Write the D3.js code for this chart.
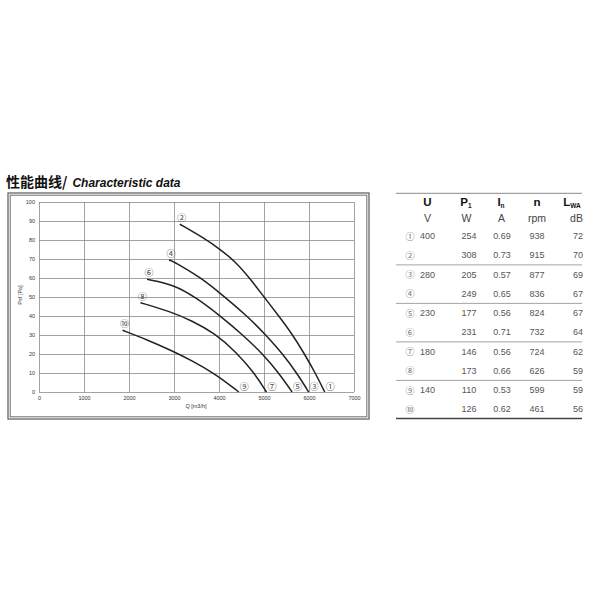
<!DOCTYPE html>
<html>
<head>
<meta charset="utf-8">
<script src="https://cdn.jsdelivr.net/npm/d3@7"></script>
<style>
  html, body { margin: 0; padding: 0; background: #fff; overflow: hidden; }
  svg { display: block; }
  .tick text { font-family: "Liberation Sans", Arial, sans-serif; fill: #333; }
</style>
</head>
<body>
<div id="viz"></div>
<script>
// curve numbers: each speed curve carries an even label at its start, odd label at its end
const curveStartLabels = ['②', '④', '⑥', '⑧', '⑩'];
const curveEndLabels   = ['①', '③', '⑤', '⑦', '⑨'];

// [Q m3/h, Psf Pa]
const curve400 = [[3130, 88.3], [3700, 80.5], [4000, 75.5], [4350, 69], [4680, 60], [5000, 50], [5330, 40], [5640, 30], [5900, 20], [6140, 10], [6350, 0]];
const curve280 = [[2890, 69.5], [3000, 68.6], [3607, 60], [4000, 52.5], [4630, 40], [5040, 30], [5418, 20], [5728, 10], [5993, 0]];
const curve230 = [[2401, 59.3], [3000, 56.5], [3500, 49.5], [4030, 40], [4530, 30], [4974, 20], [5328, 10], [5625, 0]];
const curve180 = [[2254, 47], [2900, 42.5], [3400, 37.5], [3900, 31], [4384, 21], [4789, 10], [5055, 0]];
const curve140 = [[1856, 32.5], [2400, 27.5], [2950, 21.8], [3400, 16.5], [3900, 9.8], [4441, 0]];
const curves = [curve400, curve280, curve230, curve180, curve140];

const xTicks = [0, 1000, 2000, 3000, 4000, 5000, 6000, 7000];
const yTicks = [0, 10, 20, 30, 40, 50, 60, 70, 80, 90, 100];

// table
const rowLabels = ['①', '②', '③', '④', '⑤', '⑥', '⑦', '⑧', '⑨', '⑩'];
const voltage   = [400, null, 280, null, 230, null, 180, null, 140, null];
const power     = [254, 308, 205, 249, 177, 231, 146, 173, 110, 126];
const current   = ['0.69', '0.73', '0.57', '0.65', '0.56', '0.71', '0.56', '0.66', '0.53', '0.62'];
const speed     = [938, 915, 877, 836, 824, 732, 724, 626, 599, 461];
const soundLwa  = [72, 70, 69, 67, 67, 64, 62, 59, 59, 56];
const unitLabels = ['V', 'W', 'A', 'rpm', 'dB'];

const FONT = '"Liberation Sans", Arial, sans-serif';
const CJK = '"Noto Sans CJK SC", "Noto Sans CJK JP", sans-serif';

const svg = d3.select('#viz').append('svg').attr('width', 600).attr('height', 600);

// title
const title = svg.append('text').attr('x', 6).attr('y', 187);
title.append('tspan').attr('font-family', CJK).attr('font-weight', 'bold').attr('font-size', 14).attr('fill', '#111').text('性能曲线/');
title.append('tspan').attr('font-family', FONT).attr('font-weight', 'bold').attr('font-style', 'italic')
  .attr('font-size', 12).attr('fill', '#111').attr('dx', 5).text('Characteristic data');

// chart frame
svg.append('rect').attr('x', 8).attr('y', 193).attr('width', 361).attr('height', 226)
  .attr('fill', 'none').attr('stroke', '#666').attr('stroke-width', 1.3);
svg.append('rect').attr('x', 10.2).attr('y', 195.2).attr('width', 356.6).attr('height', 221.6)
  .attr('fill', 'none').attr('stroke', '#7a7a7a').attr('stroke-width', 1.1);

const x = d3.scaleLinear().domain([0, 7000]).range([39, 354]);
const y = d3.scaleLinear().domain([0, 100]).range([392, 202]);

const gx = svg.append('g').attr('transform', `translate(0,${y(0)})`)
  .call(d3.axisBottom(x).tickValues(xTicks).tickSize(-(y(0) - y(100))).tickPadding(4).tickFormat(d3.format('d')));
const gy = svg.append('g').attr('transform', `translate(${x(0)},0)`)
  .call(d3.axisLeft(y).tickValues(yTicks).tickSize(-(x(7000) - x(0))).tickPadding(4).tickFormat(d3.format('d')));
[gx, gy].forEach(g => {
  g.select('.domain').remove();
  g.selectAll('.tick line').attr('stroke', '#8c8c8c').attr('stroke-width', 0.8);
  g.selectAll('.tick text').attr('font-size', 5.5);
});

svg.append('text').attr('x', 196).attr('y', 408).attr('text-anchor', 'middle')
  .attr('font-family', FONT).attr('font-size', 5.5).attr('fill', '#333').text('Q [m3/h]');
svg.append('text').attr('transform', 'translate(22,295) rotate(-90)').attr('text-anchor', 'middle')
  .attr('font-family', FONT).attr('font-size', 5.5).attr('fill', '#333').text('Psf [Pa]');

const line = d3.line().x(d => x(d[0])).y(d => y(d[1])).curve(d3.curveBasis);
svg.append('g').selectAll('path').data(curves).join('path')
  .attr('d', line).attr('fill', 'none').attr('stroke', '#222').attr('stroke-width', 1.5);

svg.append('g').selectAll('text').data(curves).join('text')
  .attr('x', d => x(d[0][0]) + 2).attr('y', d => y(d[0][1]) - 6.5)
  .attr('text-anchor', 'middle').attr('dominant-baseline', 'central')
  .attr('font-family', CJK).attr('font-size', 9).attr('fill', '#444')
  .text((d, i) => curveStartLabels[i]);
svg.append('g').selectAll('text').data(curves).join('text')
  .attr('x', d => x(d[d.length - 1][0]) + 5.5).attr('y', y(0) - 5.5)
  .attr('text-anchor', 'middle').attr('dominant-baseline', 'central')
  .attr('font-family', CJK).attr('font-size', 9).attr('fill', '#444')
  .text((d, i) => curveEndLabels[i]);

// table
const colX = [410, 427.5, 469, 502, 537, 578];
const rowY = d3.scaleLinear().domain([0, 9]).range([236, 409.3]);
const tbl = svg.append('g');

tbl.append('line').attr('x1', 396).attr('x2', 582).attr('y1', 193.3).attr('y2', 193.3)
  .attr('stroke', '#8a8a8a').attr('stroke-width', 1);
[1, 3, 5, 7].forEach(i => {
  const yy = (rowY(i) + rowY(i + 1)) / 2;
  tbl.append('line').attr('x1', 396).attr('x2', 582).attr('y1', yy).attr('y2', yy)
    .attr('stroke', '#9a9a9a').attr('stroke-width', 0.9);
});
tbl.append('line').attr('x1', 396).attr('x2', 582).attr('y1', 418.5).attr('y2', 418.5)
  .attr('stroke', '#444').attr('stroke-width', 1.3);

// header row with subscripts
const heads = [['U', ''], ['P', '1'], ['I', 'n'], ['n', ''], ['L', 'WA']];
const headX = [427.5, 466, 501, 537, 572];
heads.forEach((h, i) => {
  const t = tbl.append('text').attr('x', headX[i]).attr('y', 205.5).attr('text-anchor', 'middle')
    .attr('font-family', FONT).attr('font-weight', 'bold').attr('font-size', 11.5).attr('fill', '#111');
  t.append('tspan').text(h[0]);
  if (h[1]) t.append('tspan').attr('font-size', 6.5).attr('dy', 2.5).text(h[1]);
});
tbl.selectAll('text.unit').data(unitLabels).join('text').attr('class', 'unit')
  .attr('x', (d, i) => [427.5, 466.5, 501.5, 537, 576.5][i]).attr('y', 222)
  .attr('text-anchor', 'middle').attr('font-family', FONT).attr('font-size', 10.5).attr('fill', '#444')
  .text(d => d);

const rows = rowLabels.map((lab, i) => [lab, voltage[i], power[i], current[i], speed[i], soundLwa[i]]);
rows.forEach((r, i) => {
  r.forEach((v, j) => {
    if (v === null) return;
    tbl.append('text').attr('x', colX[j]).attr('y', rowY(i)).attr('text-anchor', 'middle')
      .attr('dominant-baseline', 'central')
      .attr('font-family', j === 0 ? CJK : FONT).attr('font-size', 9)
      .attr('fill', j === 0 ? '#777' : '#555').text(v);
  });
});
</script>
</body>
</html>
